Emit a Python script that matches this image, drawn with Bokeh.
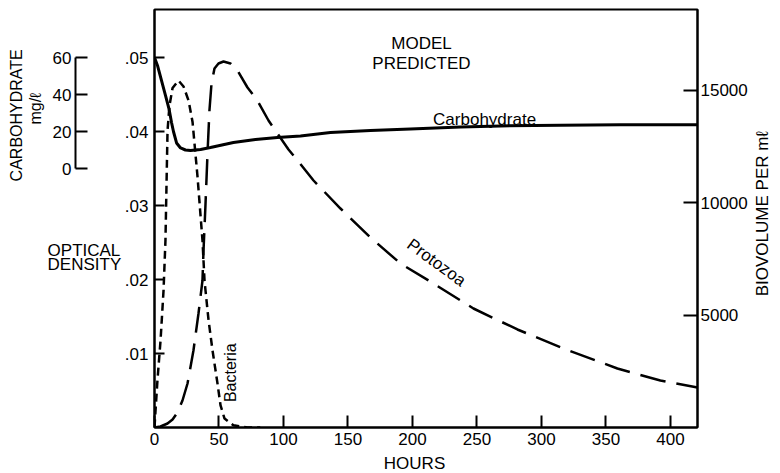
import math

from bokeh.core.properties import value
from bokeh.embed import file_html
from bokeh.models import ColumnDataSource, FixedTicker, Label, LinearAxis, Range1d
from bokeh.plotting import figure
from bokeh.resources import INLINE

# ---- axis ticks -------------------------------------------------------------
hour_ticks = [0, 50, 100, 150, 200, 250, 300, 350, 400]
od_ticks = [0.01, 0.02, 0.03, 0.04, 0.05]
od_tick_labels = [".01", ".02", ".03", ".04", ".05"]
carb_ticks = [0, 20, 40, 60]
bio_ticks = [5000, 10000, 15000]

# ---- model curves -----------------------------------------------------------
# carbohydrate, mg/l
carb_hours = [0, 2.3, 5.4, 8.5, 11.2, 13.2, 14.7, 17.1, 20.2, 24.0, 27.9, 35.7,
              43.4, 61.2, 78.3, 95.3, 113.2, 136.4, 167.4, 198.4, 237.2, 268.2,
              314.7, 361.2, 421.0]
carb_mg = [60.0, 55.7, 47.6, 39.5, 32.4, 24.9, 20.0, 13.8, 11.1, 10.0, 9.7, 10.3,
           11.4, 14.1, 15.7, 16.8, 17.6, 19.5, 20.5, 21.4, 22.4, 23.0,
           23.4, 23.6, 23.7]

# bacteria, optical density
bact_hours = [0, 0.8, 2.3, 4.7, 7.0, 8.5, 9.3, 10.1, 11.6, 14.0, 18.6, 22.5, 26.4,
              29.5, 33.3, 37.2, 38.8, 41.9, 45.0, 48.8, 51.2, 54.3, 61.2, 72.1, 82.0]
bact_od = [0.0, 0.0023, 0.0064, 0.0118, 0.0185, 0.0253, 0.0327, 0.0401, 0.0435,
           0.0459, 0.0469, 0.0461, 0.0442, 0.0413, 0.0340, 0.0253, 0.0198, 0.0145,
           0.0104, 0.0060, 0.0030, 0.0012, 0.0003, 0.0, 0.0]

# protozoa, biovolume per ml
proto_hours = [0, 4.65, 10.1, 14.0, 17.8, 21.7, 25.6, 30.2, 34.1, 37.2, 38.0, 39.5,
               41.1, 42.6, 44.2, 46.5, 49.6, 53.5, 58.9, 64.3, 72.1, 79.8, 88.4,
               95.3, 103.9, 110.9, 123.3, 144.2, 167.4, 190.7, 216.3, 247.3, 281.4,
               317.1, 358.9, 392.2, 421.0]
proto_bv = [0, 44, 178, 356, 667, 1200, 1956, 3422, 5067, 6533, 7867, 9867,
            12178, 14089, 15289, 15956, 16178, 16267, 16178, 15867, 15111, 14533, 13644,
            13067, 12356, 11867, 10978, 9733, 8444, 7289, 6400, 5289, 4356,
            3511, 2622, 2089, 1778]

FONT = "Liberation Sans"
TICK_SIZE = "17px"

p = figure(
    width=780, height=473,
    x_range=Range1d(0, 421), y_range=Range1d(0, 0.0565),
    output_backend="svg", toolbar_location=None,
    min_border_left=154, min_border_right=83, min_border_top=9, min_border_bottom=46,
    background_fill_color="white", border_fill_color="white",
)
p.grid.visible = False
p.outline_line_color = "black"
p.outline_line_width = 2

p.extra_y_ranges = {
    "carb": Range1d(-140.0, 85.95),
    "bio": Range1d(0, 18578),
}


def style_axis(ax, tick_in):
    ax.axis_line_color = "black"
    ax.axis_line_width = 2
    ax.major_tick_line_color = "black"
    ax.major_tick_line_width = 2
    ax.major_tick_in = tick_in
    ax.major_tick_out = 0
    ax.minor_tick_line_color = None
    ax.major_label_text_font = FONT
    ax.major_label_text_font_size = TICK_SIZE
    ax.major_label_text_color = "black"


# hours axis
xa = p.xaxis[0]
xa.ticker = FixedTicker(ticks=hour_ticks)
style_axis(xa, 12)
xa.major_label_standoff = 5

# optical density axis
ya = p.yaxis[0]
ya.ticker = FixedTicker(ticks=od_ticks)
ya.major_label_overrides = dict(zip(od_ticks, od_tick_labels))
style_axis(ya, 10)
ya.major_label_standoff = 6

# blank gap between the optical density labels and the carbohydrate scale:
# one white outward tick at the baseline reserves the room
gap = LinearAxis(ticker=FixedTicker(ticks=[0.0]), axis_line_color=None,
                 major_tick_line_color="white", major_tick_line_width=1,
                 minor_tick_line_color=None, major_tick_in=0, major_tick_out=46,
                 major_label_standoff=0, major_label_overrides={0.0: ""})
p.add_layout(gap, "left")

# carbohydrate scale
carb_axis = LinearAxis(y_range_name="carb", ticker=FixedTicker(ticks=carb_ticks),
                       bounds=(0, 60))
style_axis(carb_axis, 12)
carb_axis.major_label_standoff = 4
p.add_layout(carb_axis, "left")

# biovolume scale
bio_axis = LinearAxis(y_range_name="bio", ticker=FixedTicker(ticks=bio_ticks))
style_axis(bio_axis, 14)
bio_axis.major_label_standoff = 3
p.add_layout(bio_axis, "right")

# curves
p.line(carb_hours, carb_mg, y_range_name="carb", line_color="black", line_width=3)
p.line(bact_hours, bact_od, line_color="black", line_width=2.5, line_dash="8 5")
p.line(proto_hours, proto_bv, y_range_name="bio", line_color="black", line_width=2.5,
       line_dash="26 11")


def add_text(text, x, y, size="17px", angle=0.0, align="left", baseline="alphabetic"):
    p.add_layout(Label(x=x, y=y, text=text, angle=angle, text_font=FONT,
                       text_font_size=size, text_color="black", text_align=align,
                       text_baseline=baseline))


# texts inside the frame
add_text("MODEL", 207.0, 0.0519, size="17px", align="center")
add_text("PREDICTED", 207.0, 0.0492, size="17px", align="center")
add_text("Carbohydrate", 216.0, 0.0416, size="17px")
add_text("Bacteria", 58.9, 0.0074, size="16px", angle=math.pi / 2,
         align="center", baseline="middle")
add_text("Protozoa", 218.6, 0.0223, size="17px", angle=-0.63,
         align="center", baseline="middle")

# axis titles beside the frame
side = ColumnDataSource(dict(
    x=[-82.9, -82.9, -107.0, -92.2, 471.3, 201.6],
    y=[0.0239, 0.0220, 0.0422, 0.0431, 0.0289, -0.00486],
    text=["OPTICAL", "DENSITY", "CARBOHYDRATE", "mg/\u2113", "BIOVOLUME PER m\u2113",
          "HOURS"],
    angle=[0.0, 0.0, math.pi / 2, math.pi / 2, math.pi / 2, 0.0],
    align=["left", "left", "center", "center", "center", "center"],
    baseline=["alphabetic", "alphabetic", "middle", "middle", "middle", "middle"],
    size=["17px", "17px", "16px", "16px", "17px", "17px"],
))
p.text(x="x", y="y", text="text", angle="angle", text_align="align",
       text_baseline="baseline", text_font_size="size", text_font=value(FONT),
       text_color="black", source=side, level="overlay")

open("out.html", "w").write(file_html(p, INLINE))
